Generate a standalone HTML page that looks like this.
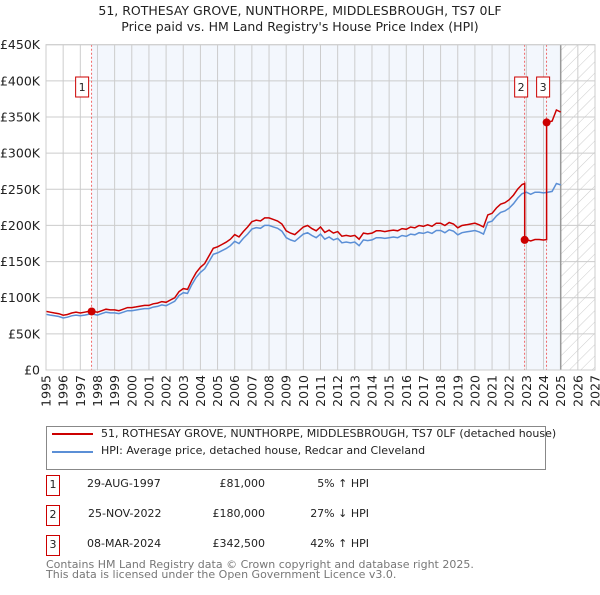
<!DOCTYPE html>
<html><head><meta charset="utf-8"><style>
body{margin:0;background:#fff;font-family:"Liberation Sans","DejaVu Sans",sans-serif;}
svg text{font-family:"DejaVu Sans","Liberation Sans",sans-serif;}
</style></head><body>
<svg id="c" width="600" height="590" xmlns="http://www.w3.org/2000/svg">
<text x="300" y="15" text-anchor="middle" font-size="12.5" fill="#222">51, ROTHESAY GROVE, NUNTHORPE, MIDDLESBROUGH, TS7 0LF</text>
<text x="300" y="31" text-anchor="middle" font-size="12.5" fill="#222">Price paid vs. HM Land Registry's House Price Index (HPI)</text>
<g id="plot"></g>
</svg>
<script>
const hpiStart = 1995.0;
const hpiValues = [77,76,75,74, 72,73,75,76, 75,76,77,77, 76,78,80,79, 79,78,80,82, 82,83,84,85, 85,87,88,90, 89,92,95,103,
107,106,118,128, 135,140,150,160, 162,165,168,172, 178,175,182,188, 195,197,196,200, 200,198,196,192, 183,180,178,183,
188,190,186,183, 188,181,184,180, 182,176,177,176, 177,172,180,179, 180,183,183,182, 183,184,183,186, 185,188,187,190,
189,191,189,193, 193,190,194,192, 187,190,191,192, 193,191,188,204, 206,213,218,220, 224,230,238,244, 246,243,246,246,
245,246,247,258, 256];
const saleLabels = ["1","2","3"];
const saleDates = [1997.66, 2022.9, 2024.18];
const salePrices = [81, 180, 342.5];
const yTicks = [0,50,100,150,200,250,300,350,400,450];
const yTickLabels = ["£0","£50K","£100K","£150K","£200K","£250K","£300K","£350K","£400K","£450K"];
const xYears = [];
for (let y = 1995; y <= 2027; y++) xYears.push(y);

const X0=46, X1=595, Y0=370, Y1=44.7;
const xs = t => X0 + (t-1995)/(2027-1995)*(X1-X0);
const ys = v => Y0 - v/450*(Y0-Y1);
const NS="http://www.w3.org/2000/svg";
const g=document.getElementById('plot');
function mk(tag, attrs, parent){const e=document.createElementNS(NS,tag);for(const k in attrs)e.setAttribute(k,attrs[k]);(parent||g).appendChild(e);return e;}
const hpiT = hpiValues.map((v,i)=>hpiStart+i*0.25);
function hpiAt(t){for(let i=0;i<hpiT.length-1;i++){if(t<=hpiT[i+1]){const f=(t-hpiT[i])/0.25;return hpiValues[i]+f*(hpiValues[i+1]-hpiValues[i]);}}return hpiValues[hpiValues.length-1];}

// shading & hatch
const defs=mk('defs',{});
const pat=mk('pattern',{id:'hatch',width:8,height:8,patternUnits:'userSpaceOnUse',patternTransform:'rotate(45)'},defs);
mk('line',{x1:0,y1:0,x2:0,y2:8,stroke:'#ccc','stroke-width':1},pat);
let r=mk('rect',{x:xs(saleDates[0]),y:Y1,width:xs(2025)-xs(saleDates[0]),height:Y0-Y1,fill:'#eef3fc',opacity:0.7});

r=mk('rect',{x:xs(2025),y:Y1,width:X1-xs(2025),height:Y0-Y1,fill:'url(#hatch)'});


// grid
xYears.forEach(y=>{const l=mk('line',{x1:xs(y),x2:xs(y),y1:Y1,y2:Y0,stroke:'#ccc','stroke-width':1});

const t=mk('text',{x:0,y:0,'font-size':12.5,fill:'#222','text-anchor':'end',transform:`translate(${xs(y)+4.5},${Y0+5}) rotate(-90)`});t.textContent=y;
});
yTicks.forEach((v,i)=>{const l=mk('line',{x1:X0,x2:X1,y1:ys(v),y2:ys(v),stroke:'#ccc','stroke-width':1});

const t=mk('text',{x:40,y:ys(v)+4.5,'font-size':12.5,fill:'#222','text-anchor':'end'});t.textContent=yTickLabels[i];
});
const bl=mk('line',{x1:xs(2025),x2:xs(2025),y1:Y1,y2:Y0,stroke:'#999','stroke-width':1.5});


// sale dashed lines
saleDates.forEach(d=>{const l=mk('line',{x1:xs(d),x2:xs(d),y1:Y1,y2:Y0,stroke:'#e44','stroke-width':0.8,'stroke-dasharray':'2,2'});
});

// HPI line
let p=hpiT.map((t,i)=>(i?'L':'M')+xs(t).toFixed(1)+','+ys(hpiValues[i]).toFixed(1)).join('');
const hl=mk('path',{d:p,fill:'none',stroke:'#5b8fd6','stroke-width':1.5});


// red line
let pts=[];
function ratioAt(t){let k=0;for(let i=0;i<saleDates.length;i++)if(t>=saleDates[i])k=i;return salePrices[k]/hpiAt(saleDates[k]);}
let tl=[...hpiT,...saleDates].sort((a,b)=>a-b);
tl.forEach(t=>{saleDates.forEach((d,i)=>{if(t===d&&i>0){pts.push([t,hpiAt(t)*salePrices[i-1]/hpiAt(saleDates[i-1])]);}});pts.push([t,hpiAt(t)*ratioAt(t)]);});
p=pts.map((q,i)=>(i?'L':'M')+xs(q[0]).toFixed(1)+','+ys(q[1]).toFixed(1)).join('');
const rl=mk('path',{d:p,fill:'none',stroke:'#cc0000','stroke-width':1.5});


saleDates.forEach((d,i)=>{const c=mk('circle',{cx:xs(d),cy:ys(salePrices[i]),r:4,fill:'#cc0000'});

const bx=(i===0)?xs(d)-8-6:xs(d)-6-6-(i===1?0:0);
const x=xs(d)-20+(i===0?6:0)-(i===0?0:-2);
const rx=(i===0)?xs(d)-16:xs(d)-10;
const b=mk('rect',{x:rx,y:77,width:13,height:20,fill:'#fff',stroke:'#cc0000','stroke-width':1});

const t=mk('text',{x:rx+6.5,y:91,'font-size':11,'text-anchor':'middle',fill:'#222'});t.textContent=saleLabels[i];
});

// axes frame
const fr=mk('rect',{x:X0,y:Y1,width:X1-X0,height:Y0-Y1,fill:'none',stroke:'#ccc','stroke-width':1});

</script>
<div style="position:absolute;left:46px;top:426px;width:498px;height:42px;border:1px solid #888;font-family:'DejaVu Sans','Liberation Sans',sans-serif;font-size:11px;color:#222;">
<div style="position:absolute;left:5px;top:6px;width:41px;height:2px;background:#cc0000;"></div>
<div style="position:absolute;left:54px;top:0px;white-space:nowrap;">51, ROTHESAY GROVE, NUNTHORPE, MIDDLESBROUGH, TS7 0LF (detached house)</div>
<div style="position:absolute;left:5px;top:24px;width:41px;height:2px;background:#5b8fd6;"></div>
<div style="position:absolute;left:54px;top:17px;white-space:nowrap;">HPI: Average price, detached house, Redcar and Cleveland</div>
</div>
<div style="position:absolute;left:0;top:0;font-family:'DejaVu Sans','Liberation Sans',sans-serif;font-size:11px;color:#222;">
<div style="position:absolute;left:46px;top:475px;width:12px;height:19px;border:1px solid #cc0000;text-align:center;line-height:18px;">1</div>
<div style="position:absolute;left:87px;top:477px;white-space:nowrap;">29-AUG-1997</div>
<div style="position:absolute;left:180px;width:85px;text-align:right;top:477px;">£81,000</div>
<div style="position:absolute;left:280px;width:89px;text-align:right;top:477px;">5% ↑ HPI</div>
<div style="position:absolute;left:46px;top:505px;width:12px;height:19px;border:1px solid #cc0000;text-align:center;line-height:18px;">2</div>
<div style="position:absolute;left:88px;top:507px;white-space:nowrap;">25-NOV-2022</div>
<div style="position:absolute;left:180px;width:85px;text-align:right;top:507px;">£180,000</div>
<div style="position:absolute;left:280px;width:89px;text-align:right;top:507px;">27% ↓ HPI</div>
<div style="position:absolute;left:46px;top:535px;width:12px;height:19px;border:1px solid #cc0000;text-align:center;line-height:18px;">3</div>
<div style="position:absolute;left:87px;top:537px;white-space:nowrap;">08-MAR-2024</div>
<div style="position:absolute;left:180px;width:85px;text-align:right;top:537px;">£342,500</div>
<div style="position:absolute;left:280px;width:89px;text-align:right;top:537px;">42% ↑ HPI</div>
<div style="position:absolute;left:46px;top:560px;color:#777;line-height:10px;white-space:nowrap;">Contains HM Land Registry data © Crown copyright and database right 2025.<br>This data is licensed under the Open Government Licence v3.0.</div>
</div>
</body></html>
